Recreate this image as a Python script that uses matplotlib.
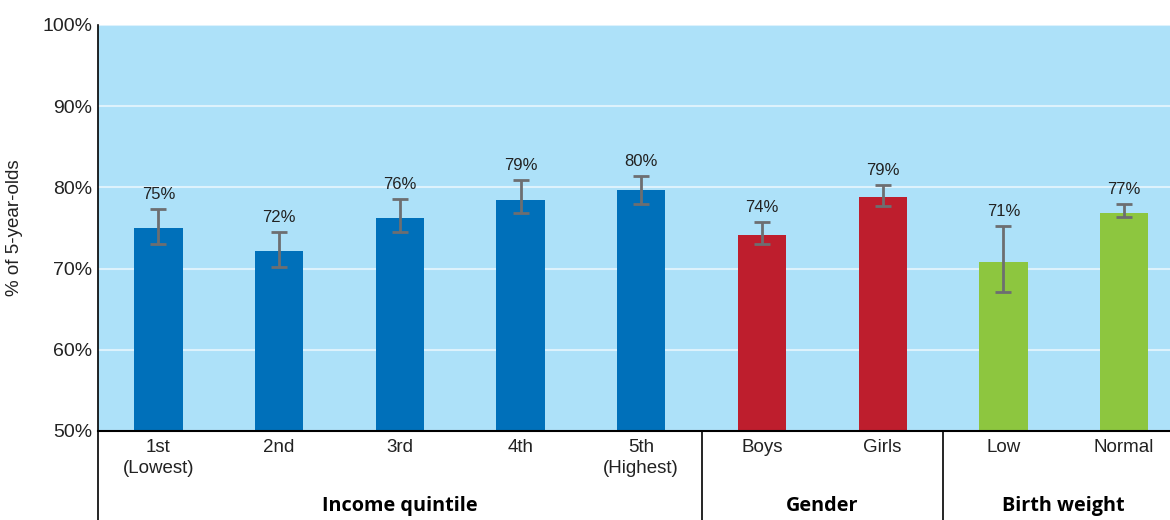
import numpy as np
import matplotlib.pyplot as plt
from matplotlib.lines import Line2D

categories = ["1st\n(Lowest)", "2nd", "3rd", "4th", "5th\n(Highest)", "Boys", "Girls", "Low", "Normal"]
values = [75.0, 72.2, 76.2, 78.4, 79.7, 74.1, 78.8, 70.8, 76.8]
err_low = [73.0, 70.2, 74.5, 76.8, 78.0, 73.0, 77.7, 67.1, 76.3]
err_high = [77.4, 74.5, 78.6, 80.9, 81.4, 75.7, 80.3, 75.2, 78.0]
value_labels = ["75%", "72%", "76%", "79%", "80%", "74%", "79%", "71%", "77%"]
groups = ["Income quintile", "Gender", "Birth weight"]
group_sizes = [5, 2, 2]
group_colors = ["#0070BA", "#BE1E2D", "#8DC63F"]

plt.rcParams['font.family'] = ['Liberation Sans', 'DejaVu Sans']

fig = plt.figure(figsize=(11.7, 5.2), dpi=100)
ax = fig.add_axes([98 / 1170, 89 / 520, 1072 / 1170, 406 / 520])
ax.set_facecolor("#ADE1F9")

x = np.arange(len(categories))
colors = []
for c, n in zip(group_colors, group_sizes):
    colors += [c] * n

ax.bar(x, values, width=0.4, color=colors, zorder=2)
yerr = [np.array(values) - np.array(err_low), np.array(err_high) - np.array(values)]
ax.errorbar(x, values, yerr=yerr, fmt="none", ecolor="#6D6E71", elinewidth=2,
            capsize=5.5, capthick=2, zorder=3)

for xi, top, lab in zip(x, err_high, value_labels):
    ax.annotate(lab, (xi, top), xytext=(0, 5), textcoords="offset points",
                ha="center", va="bottom", fontsize=12, color="#222222")

ax.set_ylim(50, 100)
ax.set_xlim(-0.5, 8.38)
ax.set_yticks([50, 60, 70, 80, 90, 100])
ax.set_yticklabels([f"{v}%" for v in range(50, 101, 10)], fontsize=14, color="#222222")
ax.yaxis.grid(True, color="#DDF2FC", linewidth=1.5, zorder=1)
ax.set_axisbelow(True)
ax.tick_params(axis="y", length=0, pad=4)
ax.tick_params(axis="x", length=0, pad=6)
ax.set_xticks(x)
ax.set_xticklabels(categories, fontsize=13.5, linespacing=1.25, color="#222222")
ax.set_ylabel("% of 5-year-olds", fontsize=13.5, labelpad=14, color="#222222")

for s in ["top", "right"]:
    ax.spines[s].set_visible(False)
ax.spines["left"].set_linewidth(1.2)
ax.spines["bottom"].set_linewidth(1.5)

# group separators and labels below the axis
depth = -89 / 406
ax.add_line(Line2D([-0.5, -0.5], [0, depth], transform=ax.get_xaxis_transform(),
                   color="black", linewidth=1.2, clip_on=False))
start = 0
for g, n in zip(groups, group_sizes):
    mid = start + (n - 1) / 2
    ax.text(mid, -0.185, g, transform=ax.get_xaxis_transform(), ha="center", va="center",
            fontsize=14.3, fontweight="bold", family=["Open Sans", "DejaVu Sans"])
    start += n
    if start < len(categories):
        ax.add_line(Line2D([start - 0.5, start - 0.5], [0, depth], transform=ax.get_xaxis_transform(),
                           color="black", linewidth=1.2, clip_on=False))

fig.savefig("out.png", dpi=100)
